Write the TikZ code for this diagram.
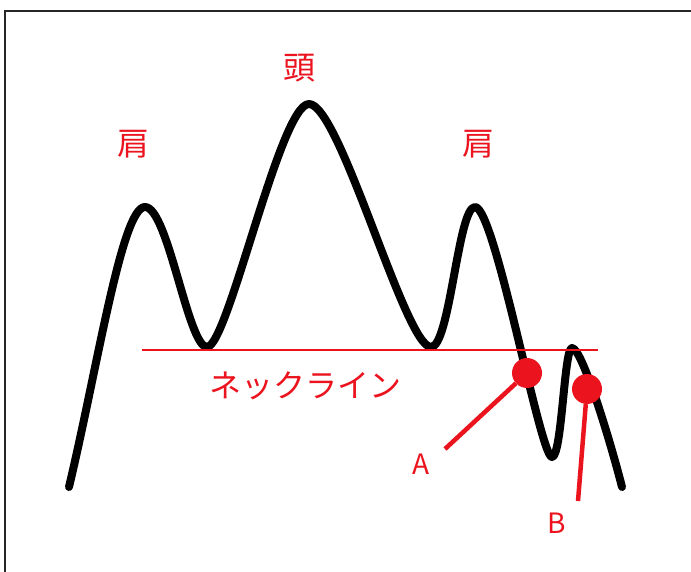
\documentclass[tikz,border=0pt]{standalone}
\usepackage{fontspec}
\newfontfamily\cjk{Noto Sans CJK JP}
\definecolor{lred}{RGB}{235,20,30}
\begin{document}
\begin{tikzpicture}[x=1pt,y=-1pt,
  curve/.style={line width=8pt,line cap=round,line join=round},
  lbl/.style={text=lred,font=\cjk\fontsize{32}{32}\selectfont,inner sep=0pt},
  lett/.style={text=lred,font=\cjk\fontsize{28}{28}\selectfont,inner sep=0pt},
  dotnode/.style={circle,fill=lred,minimum size=30pt,inner sep=0pt},
  pointer/.style={lred,line width=4.5pt}]
\useasboundingbox (0,0) rectangle (691,572);
\fill[white] (0,0) rectangle (691,572);
% frame (top and left)
\draw[line width=2.5pt,black!85] (691,11) -- (5,11) -- (5,572);
% price curve
\draw[curve] (69,487)
  .. controls (98,365) and (122,207) .. (145,207)
  .. controls (168,207) and (188,347) .. (207,347)
  .. controls (228,347) and (280,104) .. (309,104)
  .. controls (340,104) and (405,347) .. (431,347)
  .. controls (450,347) and (458,207) .. (475,207)
  .. controls (495,207) and (540,457) .. (552,457)
  .. controls (562,457) and (564,348) .. (572,348)
  .. controls (582,348) and (610,440) .. (622,487);
% neckline
\coordinate (nl1) at (142,350);
\coordinate (nl2) at (598,350);
\draw[lred,line width=1.8pt] (nl1) -- (nl2);
% labels
\node[lbl] (sh1) at (133,144) {肩};
\node[lbl] (head) at (299,68) {頭};
\node[lbl] (sh2) at (478,144) {肩};
\node[lbl] (neck) at (305,386) {ネックライン};
% break points
\node[dotnode] (adot) at (527,373) {};
\node[dotnode] (bdot) at (587,389) {};
\coordinate (aend) at (445,449);
\coordinate (bend) at (578,501);
\draw[pointer] (adot) -- (aend);
\draw[pointer] (bdot) -- (bend);
\node[lett] (alab) at (421,464) {A};
\node[lett] (blab) at (557,523) {B};
\end{tikzpicture}
\end{document}
